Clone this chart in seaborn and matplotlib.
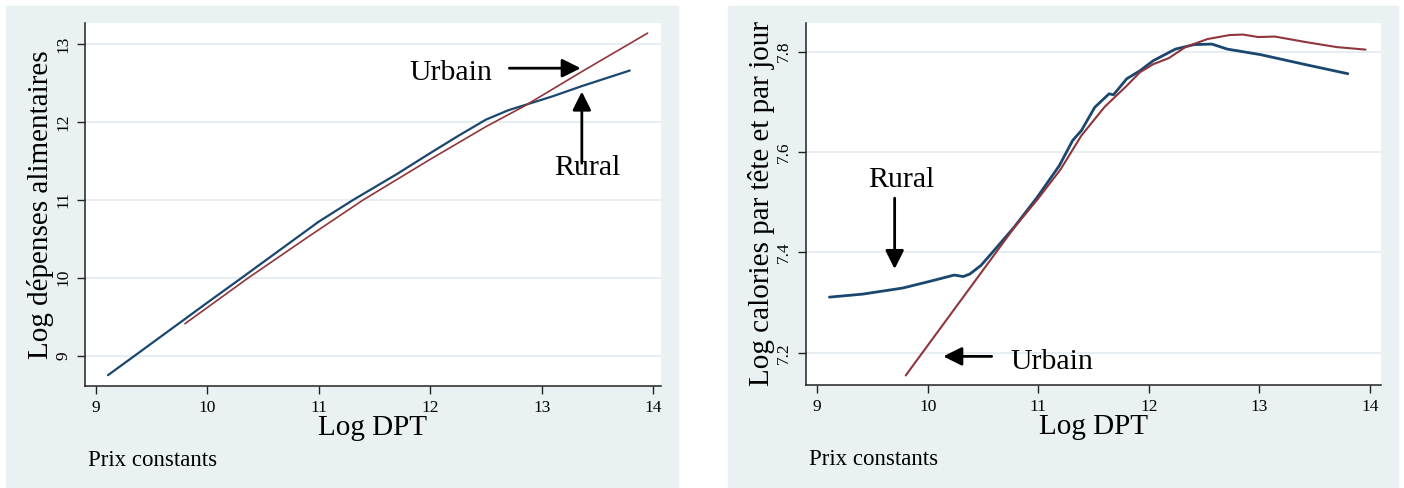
import pandas as pd
import matplotlib
matplotlib.use("Agg")
import matplotlib.pyplot as plt
from matplotlib.patches import Rectangle
import seaborn as sns

# left panel : log food spending vs log DPT
food_rural_x = [9.11, 9.35, 10.0, 10.31, 11.0, 11.31, 11.7, 12.0, 12.25, 12.5, 12.7, 12.9,
                13.1, 13.36, 13.79]
food_rural_y = [8.75, 9.0, 9.68, 10.0, 10.72, 11.0, 11.33, 11.6, 11.82, 12.03, 12.15, 12.24,
                12.33, 12.46, 12.66]
food_urban_x = [9.80, 10.37, 10.9, 11.40, 12.0, 12.5, 12.84, 13.40, 13.95]
food_urban_y = [9.41, 10.0, 10.52, 11.0, 11.52, 11.94, 12.20, 12.68, 13.14]

# right panel : log calories per head per day vs log DPT
cal_rural_x = [9.11, 9.41, 9.77, 10.01, 10.24, 10.32, 10.38, 10.48, 10.58, 10.78, 10.99, 11.19,
               11.31, 11.39, 11.51, 11.64, 11.68, 11.80, 11.92, 12.04, 12.24, 12.41, 12.57,
               12.71, 13.01, 13.42, 13.80]
cal_rural_y = [7.311, 7.317, 7.329, 7.342, 7.355, 7.352, 7.357, 7.374, 7.399, 7.45, 7.51, 7.573,
               7.623, 7.643, 7.689, 7.716, 7.714, 7.746, 7.762, 7.782, 7.805, 7.814, 7.815,
               7.805, 7.794, 7.774, 7.756]
cal_urban_x = [9.80, 10.05, 10.38, 10.54, 10.78, 10.99, 11.20, 11.39, 11.60, 11.80, 11.92, 12.04,
               12.18, 12.33, 12.53, 12.73, 12.85, 12.99, 13.14, 13.42, 13.70, 13.96]
cal_urban_y = [7.155, 7.230, 7.329, 7.377, 7.449, 7.505, 7.565, 7.633, 7.69, 7.732, 7.759, 7.775,
               7.787, 7.809, 7.825, 7.833, 7.834, 7.829, 7.83, 7.819, 7.809, 7.804]

food_yticks = [9, 10, 11, 12, 13]
cal_yticks = [7.2, 7.4, 7.6, 7.8]
xticks = [9, 10, 11, 12, 13, 14]

blue = "#1a476f"
red = "#90353b"
panel_bg = "#eaf1f3"
grid_col = "#e4edf0"

sns.set_style("white")
plt.rcParams['font.family'] = ['Liberation Serif', 'DejaVu Serif']
plt.rcParams['text.color'] = 'black'
plt.rcParams['axes.labelcolor'] = 'black'
plt.rcParams['xtick.color'] = 'black'
plt.rcParams['ytick.color'] = 'black'

W, H = 1404, 488
fig = plt.figure(figsize=(W / 100, H / 100), dpi=100)

# light panel backgrounds behind each graph (Stata look)
for x0, x1 in [(6, 678), (728, 1398)]:
    fig.patches.append(Rectangle((x0 / W, 0), (x1 - x0) / W, 1 - 6 / H,
                                 transform=fig.transFigure, color=panel_bg, zorder=-10))

ax1 = fig.add_axes([85 / W, (H - 386) / H, (661 - 85) / W, (386 - 23) / H])
ax2 = fig.add_axes([806 / W, (H - 385) / H, (1381 - 806) / W, (385 - 23) / H])

food_rural = pd.DataFrame({'x': food_rural_x, 'y': food_rural_y})
food_urban = pd.DataFrame({'x': food_urban_x, 'y': food_urban_y})
cal_rural = pd.DataFrame({'x': cal_rural_x, 'y': cal_rural_y})
cal_urban = pd.DataFrame({'x': cal_urban_x, 'y': cal_urban_y})

sns.lineplot(data=food_rural, x='x', y='y', ax=ax1, color=blue, lw=1.6)
sns.lineplot(data=food_urban, x='x', y='y', ax=ax1, color=red, lw=1.2)
sns.lineplot(data=cal_rural, x='x', y='y', ax=ax2, color=blue, lw=2.0)
sns.lineplot(data=cal_urban, x='x', y='y', ax=ax2, color=red, lw=1.5)

ax1.set_xlim(8.904, 14.07)
ax1.set_ylim(8.611, 13.27)
ax2.set_xlim(8.898, 14.10)
ax2.set_ylim(7.136, 7.857)
ax1.set_yticks(food_yticks)
ax1.set_yticklabels([str(v) for v in food_yticks])
ax2.set_yticks(cal_yticks)
ax2.set_yticklabels([str(v) for v in cal_yticks])

for ax in (ax1, ax2):
    ax.set_zorder(5)
    ax.set_facecolor('white')
    ax.set_xticks(xticks)
    ax.set_xticklabels([str(v) for v in xticks])
    ax.grid(axis='y', color=grid_col, lw=1.3)
    ax.set_axisbelow(True)
    for s in ('top', 'right'):
        ax.spines[s].set_visible(False)
    for s in ('left', 'bottom'):
        ax.spines[s].set_color('#222222')
        ax.spines[s].set_linewidth(1.1)
    ax.tick_params(axis='both', direction='out', length=6, width=1, color='#222222',
                   labelsize=12.5, pad=4, left=True, bottom=True)
    for lab in ax.get_yticklabels():
        lab.set_rotation(90)
        lab.set_va('center')
    ax.set_xlabel('Log DPT', fontsize=21, va='center')
    ax.xaxis.set_label_coords(0.5, -0.116)
    ax.text(0.006, -0.206, 'Prix constants', transform=ax.transAxes,
            fontsize=16.5, va='center', ha='left')

ax1.set_ylabel('Log dépenses alimentaires', fontsize=21, va='center')
ax1.yaxis.set_label_coords(-0.078, 0.5)
ax2.set_ylabel('Log calories par tête et par jour', fontsize=21, va='center')
ax2.yaxis.set_label_coords(-0.077, 0.5)

arrow = dict(arrowstyle='-|>', color='black', lw=2, mutation_scale=28, shrinkA=0, shrinkB=0)

# left annotations
ax1.text(11.81, 12.63, 'Urbain', fontsize=21.5, va='center', ha='left')
ax1.annotate('', xy=(13.35, 12.69), xytext=(12.71, 12.69), arrowprops=arrow)
ax1.text(13.11, 11.41, 'Rural', fontsize=21.5, va='center', ha='left')
ax1.annotate('', xy=(13.36, 12.39), xytext=(13.36, 11.47), arrowprops=arrow)

# right annotations
ax2.text(9.756, 7.545, 'Rural', fontsize=21.5, va='center', ha='center')
ax2.annotate('', xy=(9.70, 7.367), xytext=(9.70, 7.508), arrowprops=arrow)
ax2.text(10.75, 7.182, 'Urbain', fontsize=21.5, va='center', ha='left')
ax2.annotate('', xy=(10.14, 7.193), xytext=(10.578, 7.193), arrowprops=arrow)

fig.savefig('out.png', dpi=100)
